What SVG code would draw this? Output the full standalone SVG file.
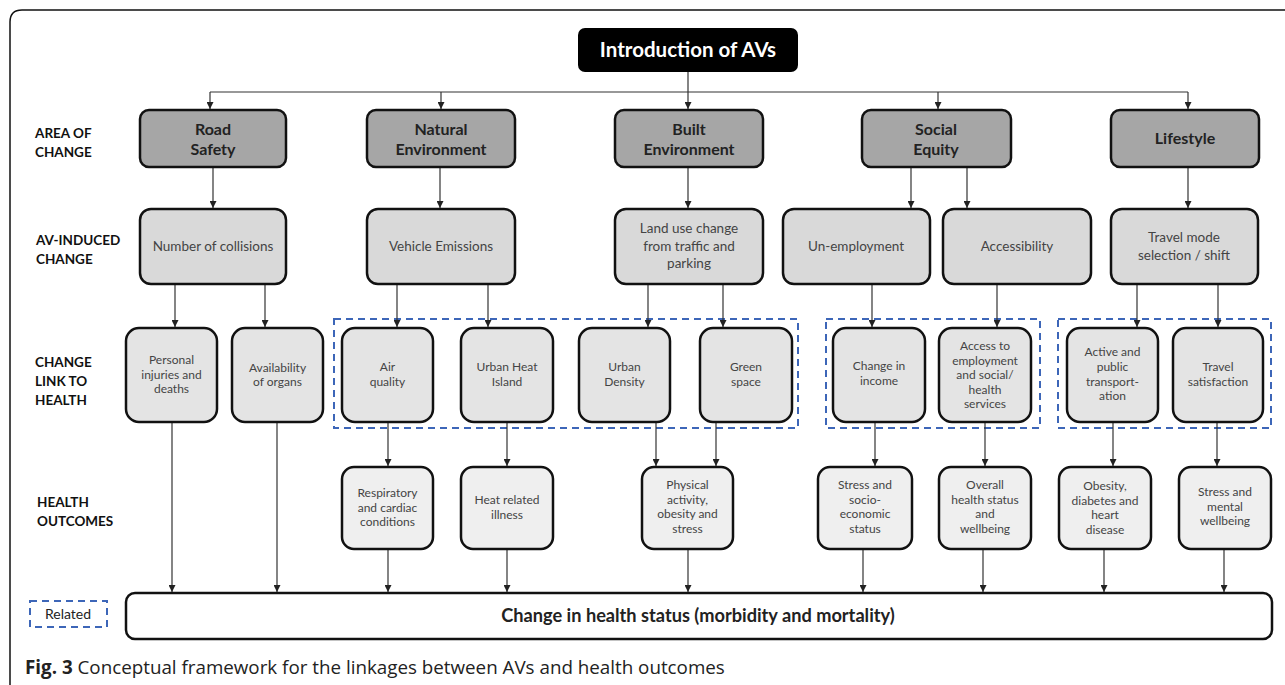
<svg xmlns="http://www.w3.org/2000/svg" width="1285" height="685" viewBox="0 0 1285 685">
<defs>
<marker id="arr" markerWidth="7" markerHeight="7" refX="7" refY="3.5" orient="auto" markerUnits="userSpaceOnUse">
<path d="M0,0 L7,3.5 L0,7 z" fill="#222"/>
</marker>
<style>
.area rect{fill:#a6a6a6;stroke:#111;stroke-width:2.5}
.av rect{fill:#d9d9d9;stroke:#111;stroke-width:2.5}
.link rect{fill:#e4e4e4;stroke:#111;stroke-width:2.5}
.out rect{fill:#efefef;stroke:#111;stroke-width:2.5}
.area text{font-family:Lato,"Open Sans",sans-serif;font-weight:bold;font-size:16px;fill:#222;text-anchor:middle}
.av text{font-family:Lato,"Open Sans",sans-serif;font-size:13.5px;fill:#444;text-anchor:middle}
.link text,.out text{font-family:Lato,"Open Sans",sans-serif;font-size:12px;fill:#444;text-anchor:middle}
.lbl{font-family:Lato,"Open Sans",sans-serif;font-weight:bold;font-size:13.5px;fill:#111}
.dash{fill:none;stroke:#3d66b8;stroke-width:2;stroke-dasharray:7 5}
.conn line,.conn path{stroke:#333;stroke-width:1.2;fill:none;marker-end:url(#arr)}
</style>
</defs>
<rect width="1285" height="685" fill="#fff"/>
<path d="M10,685 L10,22 Q10,10 22,10 L1285,10" fill="none" stroke="#111" stroke-width="1.5"/>

<!-- row labels -->
<g id="labels">
<text class="lbl" x="35" y="138">AREA OF</text>
<text class="lbl" x="35" y="157">CHANGE</text>
<text class="lbl" x="36" y="245">AV-INDUCED</text>
<text class="lbl" x="36" y="264">CHANGE</text>
<text class="lbl" x="35" y="367">CHANGE</text>
<text class="lbl" x="35" y="386">LINK TO</text>
<text class="lbl" x="35" y="405">HEALTH</text>
<text class="lbl" x="37" y="507">HEALTH</text>
<text class="lbl" x="37" y="526">OUTCOMES</text>
</g>

<!-- dashed groupings -->
<g id="groups">
<rect class="dash" x="334" y="319" width="464" height="109"/>
<rect class="dash" x="826" y="319" width="214" height="109"/>
<rect class="dash" x="1058" y="319" width="213" height="109"/>
</g>

<g id="legend">
<rect class="dash" x="30" y="601" width="77" height="26"/>
<text x="68" y="619" font-family="Lato,'Open Sans',sans-serif" font-size="14px" fill="#222" text-anchor="middle">Related</text>
</g>

<g class="conn" id="connectors">
<line x1="688" y1="72" x2="688" y2="109"/>
<path d="M210,92 L1188,92" style="marker-end:none"/>
<line x1="210" y1="92" x2="210" y2="109"/>
<line x1="441" y1="92" x2="441" y2="109"/>
<line x1="938" y1="92" x2="938" y2="109"/>
<line x1="1188" y1="92" x2="1188" y2="109"/>

<line x1="213" y1="167" x2="213" y2="208"/>
<line x1="440" y1="167" x2="440" y2="208"/>
<line x1="688" y1="167" x2="688" y2="208"/>
<line x1="911" y1="167" x2="911" y2="208"/>
<line x1="967" y1="167" x2="967" y2="208"/>
<line x1="1188" y1="167" x2="1188" y2="208"/>

<line x1="175" y1="284" x2="175" y2="327"/>
<line x1="265" y1="284" x2="265" y2="327"/>
<line x1="397" y1="284" x2="397" y2="327"/>
<line x1="488" y1="284" x2="488" y2="327"/>
<line x1="648" y1="284" x2="648" y2="327"/>
<line x1="723" y1="284" x2="723" y2="327"/>
<line x1="872" y1="284" x2="872" y2="327"/>
<line x1="997" y1="284" x2="997" y2="327"/>
<line x1="1137" y1="284" x2="1137" y2="327"/>
<line x1="1218" y1="284" x2="1218" y2="327"/>

<line x1="388" y1="422" x2="388" y2="466"/>
<line x1="507" y1="422" x2="507" y2="466"/>
<line x1="656" y1="422" x2="656" y2="466"/>
<line x1="716" y1="422" x2="716" y2="466"/>
<line x1="875" y1="422" x2="875" y2="466"/>
<line x1="985" y1="422" x2="985" y2="466"/>
<line x1="1113" y1="422" x2="1113" y2="466"/>
<line x1="1217" y1="422" x2="1217" y2="466"/>

<line x1="172" y1="422" x2="172" y2="592"/>
<line x1="277" y1="422" x2="277" y2="592"/>
<line x1="388" y1="549" x2="388" y2="592"/>
<line x1="507" y1="549" x2="507" y2="592"/>
<line x1="688" y1="549" x2="688" y2="592"/>
<line x1="863" y1="549" x2="863" y2="592"/>
<line x1="983" y1="549" x2="983" y2="592"/>
<line x1="1104" y1="549" x2="1104" y2="592"/>
<line x1="1224" y1="549" x2="1224" y2="592"/>
</g>

<g id="intro">
<rect x="578" y="28" width="220" height="44" rx="7" fill="#000"/>
<text x="688" y="57" font-family="Lato,'Open Sans',sans-serif" font-weight="bold" font-size="20.5px" fill="#fff" text-anchor="middle">Introduction of AVs</text>
</g>

<!-- area of change -->
<g id="road-safety" class="area"><rect x="140" y="110" width="146" height="57" rx="9"/><text x="213" y="135">Road</text><text x="213" y="155">Safety</text></g>
<g id="natural-env" class="area"><rect x="367" y="110" width="148" height="57" rx="9"/><text x="441" y="135">Natural</text><text x="441" y="155">Environment</text></g>
<g id="built-env" class="area"><rect x="615" y="110" width="148" height="57" rx="9"/><text x="689" y="135">Built</text><text x="689" y="155">Environment</text></g>
<g id="social-equity" class="area"><rect x="862" y="110" width="149" height="57" rx="9"/><text x="936" y="135">Social</text><text x="936" y="155">Equity</text></g>
<g id="lifestyle" class="area"><rect x="1111" y="110" width="148" height="57" rx="9"/><text x="1185" y="144">Lifestyle</text></g>

<!-- AV-induced change -->
<g id="collisions" class="av"><rect x="140" y="209" width="146" height="75" rx="11"/><text x="213" y="251">Number of collisions</text></g>
<g id="emissions" class="av"><rect x="367" y="209" width="148" height="75" rx="11"/><text x="441" y="251">Vehicle Emissions</text></g>
<g id="land-use" class="av"><rect x="615" y="209" width="148" height="75" rx="11"/><text x="689" y="233">Land use change</text><text x="689" y="250.5">from traffic and</text><text x="689" y="268">parking</text></g>
<g id="unemployment" class="av"><rect x="783" y="209" width="147" height="75" rx="11"/><text x="856" y="251">Un-employment</text></g>
<g id="accessibility" class="av"><rect x="943" y="209" width="148" height="75" rx="11"/><text x="1017" y="251">Accessibility</text></g>
<g id="travel-mode" class="av"><rect x="1111" y="209" width="147" height="75" rx="11"/><text x="1184" y="242">Travel mode</text><text x="1184" y="260">selection / shift</text></g>

<!-- change link to health -->
<g id="injuries" class="link"><rect x="126" y="328" width="91" height="94" rx="13"/><text x="171.5" y="364">Personal</text><text x="171.5" y="378.5">injuries and</text><text x="171.5" y="393">deaths</text></g>
<g id="organs" class="link"><rect x="232" y="328" width="91" height="94" rx="13"/><text x="277.5" y="371.5">Availability</text><text x="277.5" y="386">of organs</text></g>
<g id="air-quality" class="link"><rect x="342" y="328" width="91" height="94" rx="13"/><text x="387.5" y="371">Air</text><text x="387.5" y="386">quality</text></g>
<g id="uhi" class="link"><rect x="461" y="328" width="92" height="94" rx="13"/><text x="507" y="371">Urban Heat</text><text x="507" y="386">Island</text></g>
<g id="urban-density" class="link"><rect x="579" y="328" width="91" height="94" rx="13"/><text x="624.5" y="371">Urban</text><text x="624.5" y="386">Density</text></g>
<g id="green-space" class="link"><rect x="700" y="328" width="92" height="94" rx="13"/><text x="746" y="371">Green</text><text x="746" y="386">space</text></g>
<g id="income" class="link"><rect x="833" y="328" width="92" height="94" rx="13"/><text x="879" y="370">Change in</text><text x="879" y="384.5">income</text></g>
<g id="access-services" class="link"><rect x="939" y="328" width="92" height="94" rx="13"/><text x="985" y="350">Access to</text><text x="985" y="364.5">employment</text><text x="985" y="379">and social/</text><text x="985" y="393.5">health</text><text x="985" y="408">services</text></g>
<g id="active-transport" class="link"><rect x="1067" y="328" width="91" height="94" rx="13"/><text x="1112.5" y="356">Active and</text><text x="1112.5" y="371">public</text><text x="1112.5" y="385.5">transport-</text><text x="1112.5" y="400">ation</text></g>
<g id="travel-satisfaction" class="link"><rect x="1173" y="328" width="90" height="94" rx="13"/><text x="1218" y="371">Travel</text><text x="1218" y="386">satisfaction</text></g>

<!-- health outcomes -->
<g id="respiratory" class="out"><rect x="342" y="467" width="91" height="82" rx="12"/><text x="387.5" y="497">Respiratory</text><text x="387.5" y="512">and cardiac</text><text x="387.5" y="526">conditions</text></g>
<g id="heat-illness" class="out"><rect x="461" y="467" width="92" height="82" rx="12"/><text x="507" y="504">Heat related</text><text x="507" y="519">illness</text></g>
<g id="physical-activity" class="out"><rect x="642" y="467" width="91" height="82" rx="12"/><text x="687.5" y="489">Physical</text><text x="687.5" y="504">activity,</text><text x="687.5" y="518">obesity and</text><text x="687.5" y="533">stress</text></g>
<g id="stress-socio" class="out"><rect x="818" y="467" width="94" height="82" rx="12"/><text x="865" y="489">Stress and</text><text x="865" y="504">socio-</text><text x="865" y="518">economic</text><text x="865" y="533">status</text></g>
<g id="overall-health" class="out"><rect x="939" y="467" width="92" height="82" rx="12"/><text x="985" y="489">Overall</text><text x="985" y="504">health status</text><text x="985" y="518">and</text><text x="985" y="533">wellbeing</text></g>
<g id="obesity" class="out"><rect x="1059" y="467" width="92" height="82" rx="12"/><text x="1105" y="490">Obesity,</text><text x="1105" y="505">diabetes and</text><text x="1105" y="519">heart</text><text x="1105" y="534">disease</text></g>
<g id="stress-mental" class="out"><rect x="1179" y="467" width="92" height="82" rx="12"/><text x="1225" y="496">Stress and</text><text x="1225" y="511">mental</text><text x="1225" y="525">wellbeing</text></g>

<g id="health-status">
<rect x="126" y="593" width="1146" height="46" rx="9" fill="#fff" stroke="#111" stroke-width="2.5"/>
<text x="698" y="622" font-family="Lato,'Open Sans',sans-serif" font-weight="bold" font-size="18.2px" fill="#222" text-anchor="middle">Change in health status (morbidity and mortality)</text>
</g>

<text x="25" y="674" font-family="'Open Sans',sans-serif" font-size="18.8px" fill="#222"><tspan font-weight="bold">Fig. 3</tspan> Conceptual framework for the linkages between AVs and health outcomes</text>
</svg>
